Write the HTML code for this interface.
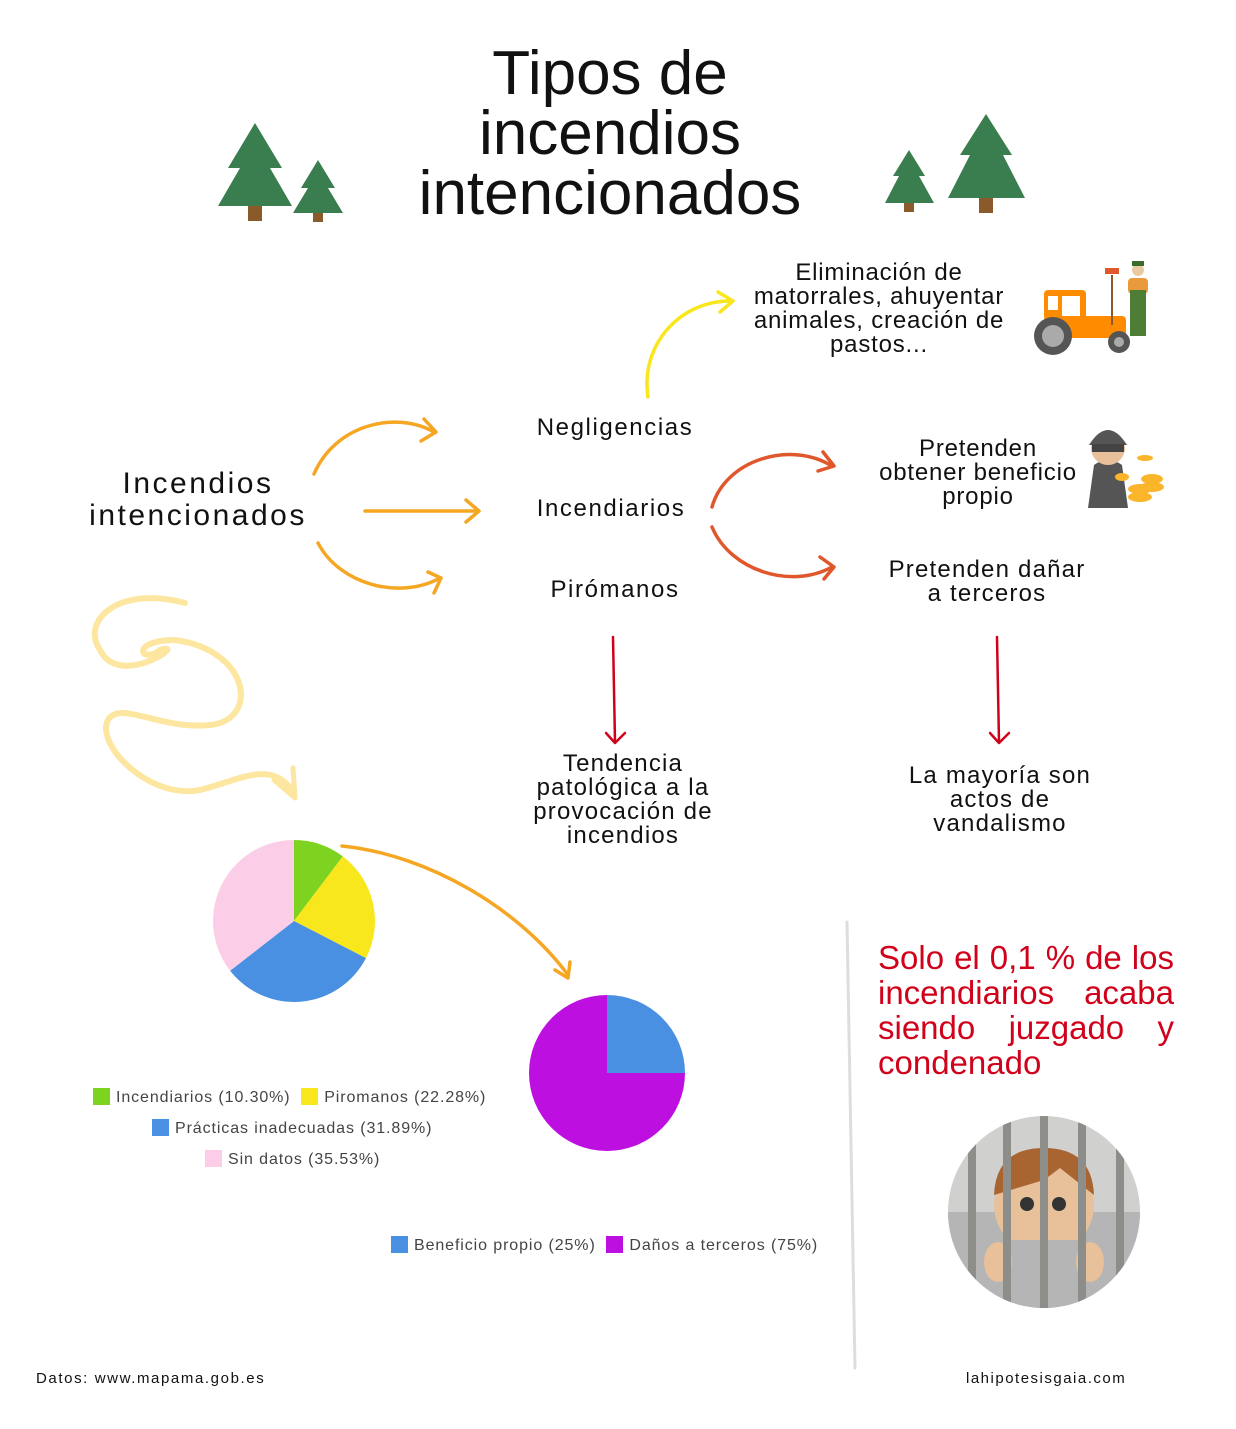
<!DOCTYPE html>
<html><head><meta charset="utf-8"><style>
body{margin:0;width:1236px;height:1429px;background:#fff;position:relative;overflow:hidden;font-family:"Liberation Sans",sans-serif;color:#111}
.t{position:absolute;text-align:center;line-height:24px;font-size:24px;letter-spacing:1.6px;white-space:nowrap}
.leg{position:absolute;font-size:16px;color:#444;white-space:nowrap;letter-spacing:0.9px}
.sq{display:inline-block;width:17px;height:17px;vertical-align:-3px;margin-right:6px}
</style></head><body>
<div class="t" style="left:360px;top:44px;width:500px;font-size:62px;line-height:60px;letter-spacing:0">Tipos de<br>incendios<br>intencionados</div>
<div class="t" style="left:60px;top:468px;width:276px;font-size:30px;line-height:32px;letter-spacing:2.5px">Incendios<br>intencionados</div>
<div class="t" style="left:500px;top:416px;width:230px">Negligencias</div>
<div class="t" style="left:500px;top:497px;width:222px">Incendiarios</div>
<div class="t" style="left:500px;top:578px;width:230px">Pirómanos</div>
<div class="t" style="left:730px;top:261px;width:298px;letter-spacing:0.8px">Eliminación de<br>matorrales, ahuyentar<br>animales, creación de<br>pastos...</div>
<div class="t" style="left:858px;top:437px;width:240px;letter-spacing:0.8px">Pretenden<br>obtener beneficio<br>propio</div>
<div class="t" style="left:860px;top:558px;width:254px;letter-spacing:1.2px">Pretenden dañar<br>a terceros</div>
<div class="t" style="left:505px;top:752px;width:236px;letter-spacing:1.2px">Tendencia<br>patológica a la<br>provocación de<br>incendios</div>
<div class="t" style="left:880px;top:764px;width:240px;letter-spacing:1.2px">La mayoría son<br>actos de<br>vandalismo</div>
<div style="position:absolute;left:878px;top:940px;width:296px;color:#d0021b;font-size:33px;line-height:35px;text-align:justify;text-align-last:left">Solo el 0,1 % de los incendiarios acaba siendo juzgado y condenado</div>
<div class="leg" style="left:93px;top:1088px"><span class="sq" style="background:#7ed321"></span>Incendiarios (10.30%) &nbsp;<span class="sq" style="background:#f8e71c"></span>Piromanos (22.28%)</div>
<div class="leg" style="left:152px;top:1119px"><span class="sq" style="background:#4a90e2"></span>Prácticas inadecuadas (31.89%)</div>
<div class="leg" style="left:205px;top:1150px"><span class="sq" style="background:#fbcde6"></span>Sin datos (35.53%)</div>
<div class="leg" style="left:391px;top:1236px"><span class="sq" style="background:#4a90e2"></span>Beneficio propio (25%) &nbsp;<span class="sq" style="background:#bd10e0"></span>Daños a terceros (75%)</div>
<div style="position:absolute;left:36px;top:1370px;font-size:15px;letter-spacing:1.6px">Datos: www.mapama.gob.es</div>
<div style="position:absolute;left:966px;top:1370px;font-size:15px;letter-spacing:1.5px">lahipotesisgaia.com</div>
<svg width="1236" height="1429" style="position:absolute;left:0;top:0" fill="none" stroke-linecap="round" stroke-linejoin="round">
<g fill="#3a7d4f" stroke="none">
<polygon points="255,123 228,168 240,168 218,206 292,206 270,168 282,168"/><rect x="248" y="206" width="14" height="15" fill="#8b5a2b"/>
<polygon points="318,160 301,188 308,188 293,213 343,213 328,188 335,188"/><rect x="313" y="213" width="10" height="9" fill="#8b5a2b"/>
<polygon points="909,150 893,176 899,176 885,203 934,203 919,176 925,176"/><rect x="904" y="203" width="10" height="9" fill="#8b5a2b"/>
<polygon points="986,114 960,155 970,155 948,198 1025,198 1003,155 1012,155"/><rect x="979" y="198" width="14" height="15" fill="#8b5a2b"/>
</g>
<g stroke="#f5a623" stroke-width="3.5">
<path d="M314,474 C335,425 395,410 434,432"/><path d="M424,419 L436,432 L421,441"/>
<path d="M365,511 L478,511"/><path d="M466,500 L479,511 L466,522"/>
<path d="M318,543 C340,585 400,600 440,578"/><path d="M428,572 L441,578 L434,593"/>
<path d="M342,846 C430,855 520,910 568,975"/><path d="M555,970 L568,978 L570,962"/>
</g>
<g stroke="#f8e71c" stroke-width="3.5"><path d="M648,397 C640,345 680,300 732,301"/><path d="M718,292 L733,301 L720,312"/></g>
<g stroke="#e0572b" stroke-width="3.5">
<path d="M712,507 C725,460 790,440 832,466"/><path d="M823,452 L834,466 L818,471"/>
<path d="M712,527 C730,570 790,590 832,567"/><path d="M820,557 L834,567 L824,579"/>
</g>
<g stroke="#d0021b" stroke-width="2.5">
<path d="M613,637 L615,742"/><path d="M606,733 L615,743 L625,733"/>
<path d="M997,637 L999,742"/><path d="M990,733 L999,743 L1009,733"/>
</g>
<path d="M185,603 C120,585 80,620 100,650 C120,690 190,640 160,650 C140,665 130,640 175,640 C250,650 260,720 210,725 C160,730 120,700 108,720 C95,745 150,800 200,790 C240,780 270,760 292,790" stroke="#fde6a0" stroke-width="6"/>
<path d="M274,780 L295,798 L293,768" stroke="#fde6a0" stroke-width="5"/>
<line x1="847" y1="922" x2="855" y2="1368" stroke="#ddd" stroke-width="3"/>
<g stroke="none">
<path d="M294,921 L294,840 A81,81 0 0 1 342.8,856.4Z" fill="#7ed321"/>
<path d="M294,921 L342.8,856.4 A81,81 0 0 1 366,958.1Z" fill="#f8e71c"/>
<path d="M294,921 L366,958.1 A81,81 0 0 1 230.1,970.7Z" fill="#4a90e2"/>
<path d="M294,921 L230.1,970.7 A81,81 0 0 1 294,840Z" fill="#fbcde6"/>
<path d="M607,1073 L607,995 A78,78 0 0 1 685,1073Z" fill="#4a90e2"/>
<path d="M607,1073 L685,1073 A78,78 0 1 1 607,995Z" fill="#bd10e0"/>
</g>
<g stroke="none">
<rect x="1044" y="290" width="42" height="30" rx="4" fill="#ff8c00"/>
<rect x="1048" y="296" width="10" height="14" fill="#fff"/><rect x="1062" y="296" width="18" height="20" fill="#fff"/>
<rect x="1044" y="316" width="82" height="22" rx="4" fill="#ff8c00"/>
<circle cx="1053" cy="336" r="19" fill="#555"/><circle cx="1053" cy="336" r="11" fill="#aaa"/>
<circle cx="1119" cy="342" r="11" fill="#555"/><circle cx="1119" cy="342" r="5" fill="#aaa"/>
<rect x="1128" y="278" width="20" height="16" rx="4" fill="#e89a3c"/><rect x="1130" y="290" width="16" height="46" fill="#4e7d35"/>
<circle cx="1138" cy="270" r="6" fill="#e8c9a0"/><rect x="1132" y="261" width="12" height="5" fill="#3a6b2a"/>
<rect x="1111" y="275" width="2" height="50" fill="#8b5a2b"/><rect x="1105" y="268" width="14" height="6" fill="#e0572b"/>
<path d="M1088,508 L1094,465 Q1108,455 1122,465 L1128,508Z" fill="#555"/>
<circle cx="1108" cy="448" r="17" fill="#e8c09a"/><path d="M1089,445 Q1108,415 1127,445Z" fill="#555"/>
<rect x="1092" y="444" width="32" height="8" fill="#444"/>
<g fill="#fbb52b"><ellipse cx="1140" cy="497" rx="12" ry="5"/><ellipse cx="1140" cy="489" rx="12" ry="5"/><ellipse cx="1152" cy="487" rx="12" ry="5"/><ellipse cx="1152" cy="479" rx="11" ry="5"/><ellipse cx="1145" cy="458" rx="8" ry="3"/><ellipse cx="1122" cy="477" rx="7" ry="4"/></g>
<clipPath id="c"><circle cx="1044" cy="1212" r="96"/></clipPath>
<g clip-path="url(#c)">
<rect x="940" y="1110" width="210" height="210" fill="#d0d0cf"/><rect x="940" y="1212" width="210" height="110" fill="#b4b5b4"/>
<circle cx="1044" cy="1205" r="50" fill="#e8c09a"/>
<path d="M994,1195 Q996,1148 1044,1148 Q1092,1148 1094,1195 L1060,1168 L1044,1180 Z" fill="#a86532"/>
<rect x="994" y="1240" width="100" height="80" fill="#b4b5b4"/>
<circle cx="1027" cy="1204" r="7" fill="#333"/><circle cx="1059" cy="1204" r="7" fill="#333"/>
<ellipse cx="998" cy="1262" rx="14" ry="20" fill="#e8c09a"/><ellipse cx="1090" cy="1262" rx="14" ry="20" fill="#e8c09a"/>
<g fill="#8d8d89"><rect x="968" y="1110" width="8" height="210"/><rect x="1003" y="1110" width="8" height="210"/><rect x="1040" y="1110" width="8" height="210"/><rect x="1078" y="1110" width="8" height="210"/><rect x="1116" y="1110" width="8" height="210"/></g>
</g>
</g>
</svg>
</body></html>
